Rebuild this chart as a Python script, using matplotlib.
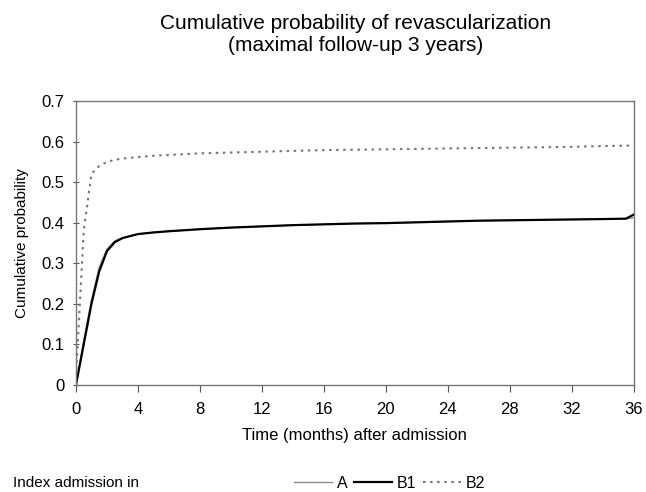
import matplotlib
matplotlib.use("Agg")
import matplotlib.pyplot as plt

plt.rcParams["font.family"] = ["Liberation Sans", "DejaVu Sans"]

# values (months, cumulative probability)
months = [0, 0.5, 1, 1.5, 2, 2.5, 3, 4, 5, 6, 8, 10, 12, 14, 16, 18, 20,
          22, 24, 26, 28, 30, 32, 34, 35.5, 36]
prob_a = [0.0, 0.11, 0.21, 0.29, 0.335, 0.355, 0.363, 0.372, 0.376, 0.379,
          0.384, 0.388, 0.391, 0.394, 0.396, 0.398, 0.399, 0.401, 0.403,
          0.405, 0.406, 0.407, 0.408, 0.409, 0.41, 0.412]
prob_b1 = [0.0, 0.10, 0.20, 0.28, 0.33, 0.352, 0.362, 0.372, 0.376, 0.379,
           0.384, 0.388, 0.391, 0.394, 0.396, 0.398, 0.399, 0.401, 0.403,
           0.405, 0.406, 0.407, 0.408, 0.409, 0.41, 0.42]
prob_b2 = [0.02, 0.38, 0.52, 0.54, 0.55, 0.555, 0.558, 0.562, 0.565, 0.567,
           0.571, 0.573, 0.575, 0.577, 0.579, 0.58, 0.581, 0.582, 0.583,
           0.584, 0.585, 0.586, 0.587, 0.589, 0.59, 0.59]

xticks = list(range(0, 37, 4))
yticks = [0, 0.1, 0.2, 0.3, 0.4, 0.5, 0.6, 0.7]
ytick_labels = ["0", "0.1", "0.2", "0.3", "0.4", "0.5", "0.6", "0.7"]

fig = plt.figure(figsize=(6.46, 4.92), dpi=100)
ax = fig.add_axes([0.1176, 0.2175, 0.8634, 0.5772])

la, = ax.plot(months, prob_a, color="#8c8c8c", lw=1.0, label="A")
lb1, = ax.plot(months, prob_b1, color="black", lw=1.6, label="B1")
lb2, = ax.plot(months, prob_b2, color="#777777", lw=1.5, ls=(0, (1.2, 2.2)), label="B2")

ax.set_xlim(0, 36)
ax.set_ylim(0, 0.7)
ax.set_xticks(xticks)
ax.set_yticks(yticks)
ax.set_yticklabels(ytick_labels)
ax.tick_params(axis="both", labelsize=12, color="#555555", length=5)
ax.tick_params(axis="y", direction="inout", pad=6)
ax.tick_params(axis="x", direction="out", pad=7)
for s in ax.spines.values():
    s.set_color("#777777")
    s.set_linewidth(1.0)

ax.set_xlabel("Time (months) after admission", fontsize=12, labelpad=8)
ax.set_ylabel("Cumulative probability", fontsize=11, labelpad=9)

fig.text(0.55, 0.93, "Cumulative probability of revascularization\n(maximal follow-up 3 years)",
         ha="center", va="center", fontsize=15, linespacing=1.2)

fig.text(0.02, 0.018, "Index admission in", fontsize=11, va="center")
fig.legend(handles=[la, lb1, lb2], loc="center", bbox_to_anchor=(0.603, 0.018),
           ncol=3, frameon=False, fontsize=11.5, handlelength=2.4,
           handletextpad=0.3, columnspacing=0.4, borderaxespad=0)

fig.savefig("out.png", dpi=100)
